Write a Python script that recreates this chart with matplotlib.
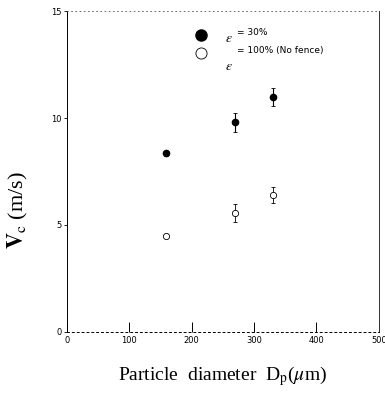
import matplotlib
matplotlib.use("Agg")
import matplotlib.pyplot as plt

plt.rcParams['mathtext.fontset'] = 'stix'

# data
dp_fence = [158, 269, 331]
vc_fence = [8.35, 9.8, 11.0]
err_fence = [0.12, 0.45, 0.42]

dp_open = [158, 269, 331]
vc_open = [4.5, 5.55, 6.4]
err_open = [0.1, 0.42, 0.38]

xticks = [0, 100, 200, 300, 400, 500]
yticks = [0, 5, 10, 15]

fig = plt.figure(figsize=(3.85, 3.97), dpi=100)
ax = fig.add_axes([0.174, 0.164, 0.81, 0.808])

ax.errorbar(dp_fence, vc_fence, yerr=err_fence, fmt='o', color='black',
            markersize=4.5, elinewidth=0.8, capsize=1.5, capthick=0.6)
ax.errorbar(dp_open, vc_open, yerr=err_open, fmt='o', color='black',
            mfc='white', mec='black', mew=0.6, markersize=4.5,
            elinewidth=0.6, capsize=1.5, capthick=0.6)

ax.set_xlim(0, 500)
ax.set_ylim(0, 15)
ax.set_xticks(xticks)
ax.set_yticks(yticks)
ax.tick_params(axis='x', direction='in', length=7, width=0.7, labelsize=6, pad=3)
ax.tick_params(axis='y', direction='out', length=2, width=0.6, labelsize=6, pad=2)

ax.spines['left'].set_linewidth(0.7)
ax.spines['bottom'].set_linewidth(0.7)
ax.spines['bottom'].set_linestyle((0, (2, 3)))
ax.spines['top'].set_linewidth(0.6)
ax.spines['top'].set_linestyle((0, (1, 4)))
ax.spines['top'].set_color('#555555')
ax.spines['right'].set_linewidth(0.7)
ax.spines['right'].set_color('#333333')

ax.set_xlabel(r'Particle  diameter  D$_\mathrm{p}$($\mathit{\mu}$m)',
              family='Liberation Serif', fontsize=14, labelpad=14)
ax.set_ylabel(r'$\mathbf{V}_\mathrm{c}$ (m/s)', family='Liberation Serif',
              fontsize=16)
ax.yaxis.set_label_coords(-0.12, 0.38)

# hand-made legend
ax.plot([0.431], [0.925], 'o', color='black', markersize=8, transform=ax.transAxes,
        clip_on=False)
ax.plot([0.431], [0.87], 'o', mfc='white', mec='black', mew=0.6, markersize=8,
        linestyle='none', transform=ax.transAxes, clip_on=False)
ax.text(0.508, 0.915, r'$\varepsilon$', fontsize=10, transform=ax.transAxes, va='center')
ax.text(0.545, 0.932, '= 30%', fontsize=6.5, transform=ax.transAxes, va='center')
ax.text(0.508, 0.83, r'$\varepsilon$', fontsize=10, transform=ax.transAxes, va='center')
ax.text(0.545, 0.876, '= 100% (No fence)', fontsize=6.5, transform=ax.transAxes,
        va='center')

fig.savefig('out.png', dpi=100)
